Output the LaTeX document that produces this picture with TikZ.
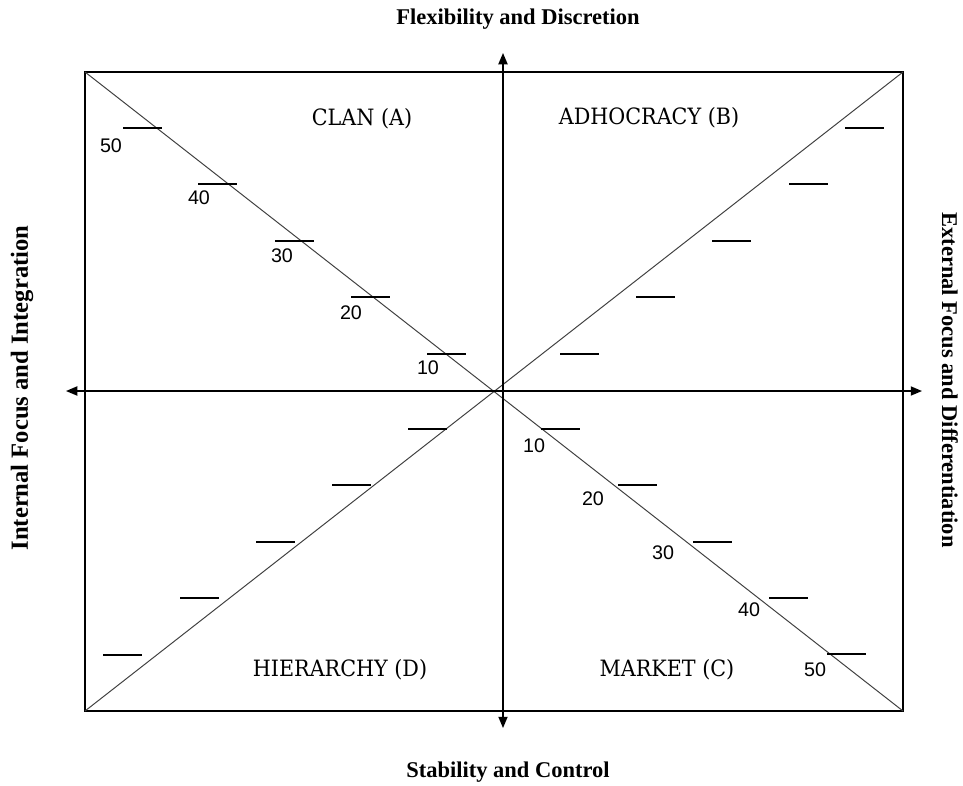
\documentclass[tikz,border=0pt]{standalone}
\usepackage{fontspec}
\setmainfont{Liberation Serif}
\newfontfamily\quadfont[FakeStretch=0.92]{DejaVu Serif}
\newfontfamily\numfont{Liberation Sans}
\usetikzlibrary{arrows.meta}

\begin{document}
\begin{tikzpicture}[x=0.025cm,y=-0.025cm,>={Triangle[length=8pt,width=6.5pt]},
  frame/.style={line width=1pt},
  axis/.style={line width=1pt,<->},
  diag/.style={line width=0.7pt,black!75},
  tick/.style={line width=0.9pt},
  quad/.style={font=\quadfont\fontsize{16}{19}\selectfont},
  num/.style={font=\numfont\fontsize{14}{16}\selectfont,inner sep=0pt},
  side/.style={font=\bfseries\fontsize{16}{19}\selectfont}]
\useasboundingbox (0,0) rectangle (963,785);
\coordinate (nw) at (85,72);
\coordinate (ne) at (903,72);
\coordinate (sw) at (85,711);
\coordinate (se) at (903,711);
\coordinate (top) at (503,53);
\coordinate (bot) at (503,728);
\coordinate (lft) at (66,391);
\coordinate (rgt) at (922,391);
\draw[frame] (nw) rectangle (se);
\draw[diag] (nw) -- (se);
\draw[diag] (sw) -- (ne);
\draw[axis] (bot) -- (top);
\draw[axis] (lft) -- (rgt);
\foreach \x/\y in {123/128,198/184,275/241,351/297,427/354,
  845/128,789/184,712/241,636/297,560/354,
  408/429,332/485,256/542,180/598,103/655,
  541/429,618/485,693/542,769/598,827/654}
  \draw[tick] (\x,\y) -- ++(38.5,0);
\foreach \v/\x/\y in {50/111/146,40/199/198,30/282/256,20/351/313,10/428/368}
  \node[num] (clan\v) at (\x,\y) {\v};
\foreach \v/\x/\y in {10/534/446,20/593/499,30/663/553,40/749/610,50/815/670}
  \node[num] (market\v) at (\x,\y) {\v};
\node[quad] (clan) at (362,119) {CLAN (A)};
\node[quad] (adhocracy) at (649,118) {ADHOCRACY (B)};
\node[quad] (hierarchy) at (340,670) {HIERARCHY (D)};
\node[quad] (market) at (667,670) {MARKET (C)};
\node[side] (flex) at (518,19) {Flexibility and Discretion};
\node[side] (stab) at (508,772) {Stability and Control};
\node[side,font=\bfseries\fontsize{17.5}{20}\selectfont,rotate=90] (internal) at (22,388) {Internal Focus and Integration};
\node[side,rotate=-90] (external) at (950,380) {External Focus and Differentiation};
\end{tikzpicture}
\end{document}
